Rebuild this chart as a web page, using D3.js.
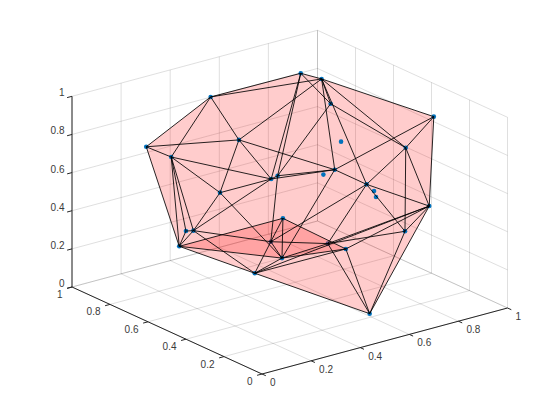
<!DOCTYPE html>
<html><head><meta charset="utf-8">
<script src="https://cdn.jsdelivr.net/npm/d3@7/dist/d3.min.js"></script>
<style>html,body{margin:0;padding:0;background:#fff}svg{display:block}text{font-family:"Liberation Sans",Arial,sans-serif;font-size:10px;fill:#3a3a3a}</style>
</head><body><svg id="c" width="560" height="420"></svg>
<script>
const tickValues = [0, 0.2, 0.4, 0.6, 0.8, 1];
const tickLabels = ["0", "0.2", "0.4", "0.6", "0.8", "1"];
const names = ["A","B","C","D","E","F","G","H","I","L","J","K","M","N","O","X","Y","Z","a","b","c","d","P","Q","R","S","T","U","V","W"];
const xs = [.410,.225,.293,.172,.347,.528,.777,.862,.744,.838,.709,.637,.813,.895,.932,.766,.774,.836,.892,.651,.655,.516,.282,.232,.185,.216,.627,.391,.280,.655];
const ys = [.8,.9,.5,.7,.4,.6,.8,.8,.6,.7,.5,.5,.5,.4,.3,.4,.4,.2,.4,.4,.5,.1,.8,.7,.6,.5,.7,.4,.4,.8];
const zs = [.946,.703,.898,.759,.720,.583,.943,.884,.886,.462,.745,.597,.485,.694,.890,.512,.478,.500,.257,.248,.229,.092,.207,.350,.414,.648,.280,.290,.249,.102];
const outline = ["B","A","G","H","O","Z","d","V","P"];
const patch = ["P","T","b","U"];
const behind = ["W","c"];
const edges = ["A-B","A-G","A-H","A-C","A-D","B-C","B-D","B-P","C-E","C-S","C-L","C-H","D-E","D-S","D-P","D-Q","D-R",
"E-F","E-G","E-L","E-S","E-R","F-G","F-I","F-W","F-L","G-H","G-I","H-I","H-O","H-L","H-M","H-N","I-N",
"L-O","L-M","L-U","M-N","M-Z","M-a","M-W","M-c","N-O","N-a","N-Z","O-Z","Z-a","Z-d","Z-c","Z-b","a-d","a-c",
"b-d","c-d","b-T","b-U","b-V","W-c","P-Q","P-R","P-T","P-U","P-V","Q-R","R-S","R-W","R-V","S-U","T-U","T-W",
"U-W","U-V","U-c","V-W","V-Z","V-d"];

const xH = d3.scaleLinear([0,1],[0,245.5]), xV = d3.scaleLinear([0,1],[0,-66]);
const yH = d3.scaleLinear([0,1],[0,-190]),  yV = d3.scaleLinear([0,1],[0,-87]);
const zV = d3.scaleLinear([0,1],[0,-190.7]);
const ox = 262, oy = 374;
const px = (x,y) => ox + xH(x) + yH(y);
const py = (x,y,z) => oy + xV(x) + yV(y) + zV(z);
const P3 = (x,y,z) => [px(x,y), py(x,y,z)];
const idx = new Map(names.map((n,i)=>[n,i]));
const V = n => { const i = idx.get(n); return P3(xs[i],ys[i],zs[i]); };

const svg = d3.select("#c");
const seg = (g,a,b,col,w) => g.append("line").attr("x1",a[0]).attr("y1",a[1]).attr("x2",b[0]).attr("y2",b[1]).attr("stroke",col).attr("stroke-width",w);

// grid
const grid = svg.append("g");
const gc = "rgba(38,38,38,0.15)";
tickValues.forEach(t=>{
  seg(grid,P3(t,0,0),P3(t,1,0),gc,1);
  seg(grid,P3(0,t,0),P3(1,t,0),gc,1);
  seg(grid,P3(t,1,0),P3(t,1,1),gc,1);
  seg(grid,P3(0,1,t),P3(1,1,t),gc,1);
  seg(grid,P3(1,t,0),P3(1,t,1),gc,1);
  seg(grid,P3(1,0,t),P3(1,1,t),gc,1);
});

// axes
const ax = svg.append("g"), ac = "#262626";
seg(ax,P3(0,0,0),P3(1,0,0),ac,1);
seg(ax,P3(0,0,0),P3(0,1,0),ac,1);
seg(ax,P3(0,1,0),P3(0,1,1),ac,1);
tickValues.forEach((t,i)=>{
  const a = P3(t,0,0), b = P3(0,t,0), c = P3(0,1,t);
  seg(ax,a,[a[0]+3.8,a[1]+1.7],ac,1);
  seg(ax,b,[b[0]-4.9,b[1]+1.3],ac,1);
  seg(ax,c,[c[0]-4.9,c[1]+1.3],ac,1);
  ax.append("text").attr("x",a[0]+8).attr("y",a[1]+8.5).attr("dy","0.35em").attr("text-anchor","start").text(tickLabels[i]);
  ax.append("text").attr("x",b[0]-9.5).attr("y",b[1]+7.5).attr("dy","0.35em").attr("text-anchor","end").text(tickLabels[i]);
  ax.append("text").attr("x",64.5).attr("y",c[1]-3.5).attr("dy","0.35em").attr("text-anchor","end").text(tickLabels[i]);
});

const dot = (g,n) => { const p = V(n); g.append("circle").attr("cx",p[0]).attr("cy",p[1]).attr("r",2.3).attr("fill","#0072BD"); };
behind.forEach(n=>dot(svg,n));
// surface
const line = d3.line();
svg.append("path").attr("d",line(outline.map(V))+"Z").attr("fill","#ff0000").attr("fill-opacity",0.2);
svg.append("path").attr("d",line(patch.map(V))+"Z").attr("fill","#ff0000").attr("fill-opacity",0.2);
// points
const pts = svg.append("g");
names.filter(n=>!behind.includes(n)).forEach(n=>dot(pts,n));
// edges
const eg = svg.append("g");
edges.forEach(e=>{ const [a,b]=e.split("-"); seg(eg,V(a),V(b),"#000",0.85); });
</script></body></html>
